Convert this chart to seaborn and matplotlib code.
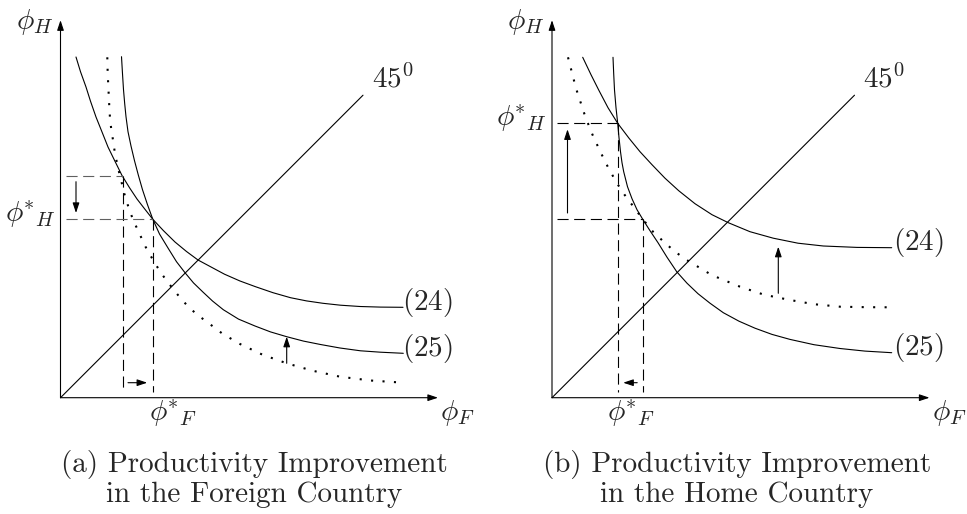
import matplotlib
matplotlib.use("Agg")
from matplotlib import pyplot as plt
import seaborn as sns

# ---- data (units: 10 px from each panel's origin) ----
# panel (a): productivity improvement in the foreign country
a_24_x = [1.55, 2.0, 2.55, 3.0, 3.55, 4.1, 4.75, 5.4, 6.15, 6.9, 7.65, 8.4, 9.25, 10.3, 11.45,
          12.6, 13.75, 15.0, 16.4, 17.95, 19.5, 21.25, 23.0, 24.6, 26.25, 28.0, 29.95, 32.0, 34.25]
a_24_y = [34.07, 32.6, 31.07, 29.65, 28.07, 26.7, 25.07, 23.74, 22.22, 21.0, 19.87, 18.9, 17.82, 16.7, 15.57,
          14.62, 13.77, 13.1, 12.35, 11.67, 11.1, 10.5, 10.0, 9.68, 9.44, 9.25, 9.12, 9.06, 9.04]
a_25_x = [6.1, 6.2, 6.3, 6.42, 6.55, 6.75, 7.05, 7.4, 7.78, 8.2, 8.7, 9.22, 9.9, 10.75, 11.6, 12.45,
          13.3, 14.25, 15.2, 16.28, 17.8, 19.45, 21.0, 22.62, 24.3, 26.0, 27.95, 30.0, 32.0, 34.28]
a_25_y = [34.1, 32.4, 30.8, 29.4, 28.1, 26.6, 25.17, 23.7, 22.27, 20.8, 19.3, 17.87, 16.37, 14.97, 13.6, 12.5,
          11.48, 10.56, 9.67, 8.8, 7.86, 7.17, 6.58, 6.1, 5.66, 5.32, 4.97, 4.69, 4.55, 4.44]
a_old_x = [4.68, 4.72, 4.8, 4.87, 4.95, 5.08, 5.25, 5.42, 5.62, 5.87, 6.12, 6.35, 6.62, 6.95, 7.3, 7.68,
           8.5, 9.35, 10.1, 10.95, 11.8, 12.62, 13.6, 14.62, 16.2, 17.95, 20.2, 22.62, 25.2, 27.95, 31.0, 34.28]
a_old_y = [34.04, 32.4, 30.77, 29.3, 27.94, 26.8, 25.77, 24.6, 23.6, 22.5, 21.5, 20.5, 19.6, 18.6, 17.7, 16.87,
           15.1, 13.6, 12.4, 11.27, 10.2, 9.27, 8.35, 7.6, 6.4, 5.37, 4.3, 3.44, 2.7, 2.1, 1.72, 1.5]
a_eq_old = (6.2, 22.2)
a_eq_new = (9.22, 17.87)
a_shift = (22.62, 3.44, 6.1)  # x, from y, to y
a_fstar_x = 11.3

# panel (b): productivity improvement in the home country
b_24_x = [3.07, 3.9, 4.67, 5.6, 6.57, 7.7, 8.8, 10.0, 11.3, 12.67, 14.3, 16.0, 17.63, 19.8,
          22.13, 24.6, 27.13, 30.5, 33.97]
b_24_y = [34.04, 32.3, 30.77, 29.0, 27.44, 25.95, 24.6, 23.3, 21.95, 20.7, 19.4, 18.3, 17.5, 16.6,
          15.95, 15.45, 15.17, 15.03, 15.0]
b_25_x = [6.1, 6.17, 6.25, 6.4, 6.57, 6.7, 6.85, 7.0, 7.17, 7.55, 8.0, 8.5, 9.1, 9.8, 10.6, 11.5,
          12.47, 13.5, 14.6, 15.8, 17.13, 18.7, 20.3, 22.0, 23.8, 26.2, 28.8, 31.3, 33.97]
b_25_y = [34.04, 32.4, 30.77, 29.0, 27.44, 26.0, 24.6, 23.5, 22.6, 21.1, 19.9, 18.8, 17.8, 16.7, 15.5, 14.05,
          12.6, 11.45, 10.4, 9.45, 8.5, 7.65, 6.95, 6.33, 5.83, 5.3, 4.92, 4.66, 4.5]
b_old_x = [1.6, 2.4, 3.33, 4.05, 4.83, 5.65, 6.5, 7.25, 8.0, 9.1, 10.1, 11.2, 12.3, 13.47, 16.0,
           18.8, 21.2, 23.8, 26.2, 28.8, 31.5, 34.13]
b_old_y = [34.04, 30.94, 28.1, 26.3, 24.6, 22.95, 21.44, 20.3, 19.3, 17.82, 16.6, 15.57, 14.6, 13.77, 12.25,
           11.1, 10.3, 9.77, 9.35, 9.1, 9.05, 9.04]
b_eq_old = (9.07, 17.87)
b_eq_new = (6.57, 27.44)
b_shift = (22.63, 10.44, 15.1)
b_fstar_x = 7.9

diag_end = 30.25
axis_len = 37.75

captions = ["(a) Productivity Improvement\nin the Foreign Country",
            "(b) Productivity Improvement\nin the Home Country"]

sns.set_style("white")
plt.rcParams["mathtext.fontset"] = "cm"
plt.rcParams["font.family"] = ["cmr10", "DejaVu Serif"]

FS = 21
arrow_kw = dict(arrowstyle="-|>,head_length=0.6,head_width=0.2", lw=0.8,
                color="black", shrinkA=0, shrinkB=0, mutation_scale=10)


def draw_panel(ax, c24, c25, old, eq_old, eq_new, shift, fstar_x, dash_color):
    ax.set_xlim(-5.5, 41.5)
    ax.set_ylim(-11.63, 39.77)
    ax.axis("off")

    # axes with arrow heads
    ax.annotate("", xy=(axis_len, 0), xytext=(0, 0), arrowprops=arrow_kw)
    ax.annotate("", xy=(0, axis_len), xytext=(0, 0), arrowprops=arrow_kw)

    # 45 degree line
    sns.lineplot(x=[0, diag_end], y=[0, diag_end], ax=ax, color="black", lw=0.8)

    # curves (24), (25) and the dotted pre-shock curve
    sns.lineplot(x=c24[0], y=c24[1], ax=ax, color="black", lw=0.8, sort=False, estimator=None)
    sns.lineplot(x=c25[0], y=c25[1], ax=ax, color="black", lw=0.8, sort=False, estimator=None)
    sns.lineplot(x=old[0], y=old[1], ax=ax, color="black", lw=1.5, sort=False,
                 estimator=None, linestyle=(0, (1, 4.5)))

    # equilibrium guide lines
    for ex, ey in (eq_old, eq_new):
        ax.plot([0.5, ex], [ey, ey], color=dash_color, lw=0.8, linestyle=(0, (10, 5)))
        ax.plot([ex, ex], [ey, 0.55], color="black", lw=0.8, linestyle=(0, (10, 5)))

    # shift arrows
    dy = 0.6 if eq_new[1] > eq_old[1] else -0.6
    ax.annotate("", xy=(1.55, eq_new[1] - dy), xytext=(1.55, eq_old[1] + dy), arrowprops=arrow_kw)
    dx = 0.55 if eq_new[0] > eq_old[0] else -0.55
    ax.annotate("", xy=(eq_new[0] - dx, 1.5), xytext=(eq_old[0] + dx, 1.5), arrowprops=arrow_kw)
    ax.annotate("", xy=(shift[0], shift[2]), xytext=(shift[0], shift[1]), arrowprops=arrow_kw)

    # labels
    ax.text(-2.6, 37.6, r"$\phi_H$", fontsize=FS, ha="center", va="center")
    ax.text(39.7, -1.5, r"$\phi_F$", fontsize=FS, ha="center", va="center")
    ax.text(-3.0, eq_new[1] + 0.5, r"$\phi^{\!\!*}\!{}_H$", fontsize=FS, ha="center", va="center")
    ax.text(fstar_x, -1.6, r"$\phi^{\!\!*}\!{}_F$", fontsize=FS, ha="center", va="center")
    ax.text(31.1, 31.9, r"$45^0$", fontsize=FS, ha="left", va="center")
    ax.text(34.1, c24[1][-1] + 0.5, r"$(24)$", fontsize=FS, ha="left", va="center")
    ax.text(34.1, c25[1][-1] + 0.5, r"$(25)$", fontsize=FS, ha="left", va="center")


fig = plt.figure(figsize=(9.67, 5.14), dpi=100)
ax_a = fig.add_axes([5.5 / 967, 0, 470 / 967, 1])
ax_b = fig.add_axes([497 / 967, 0, 470 / 967, 1])

draw_panel(ax_a, (a_24_x, a_24_y), (a_25_x, a_25_y), (a_old_x, a_old_y),
           a_eq_old, a_eq_new, a_shift, a_fstar_x, "#606060")
draw_panel(ax_b, (b_24_x, b_24_y), (b_25_x, b_25_y), (b_old_x, b_old_y),
           b_eq_old, b_eq_new, b_shift, b_fstar_x, "black")

fig.text(254 / 967, 0.069, captions[0], fontsize=FS, ha="center", va="center", linespacing=1.12)
fig.text(737 / 967, 0.069, captions[1], fontsize=FS, ha="center", va="center", linespacing=1.12)

fig.savefig("out.png", dpi=100)
